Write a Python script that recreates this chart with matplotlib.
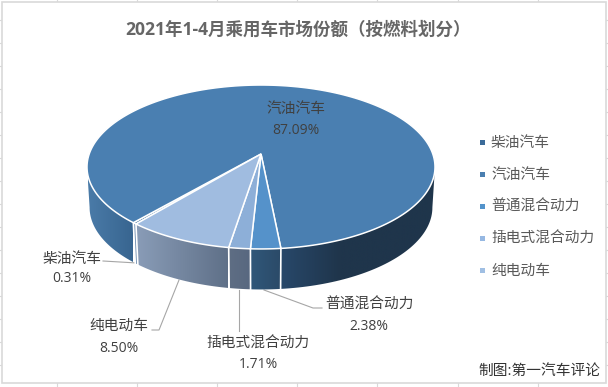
import numpy as np
import matplotlib
matplotlib.use("Agg")
import matplotlib.pyplot as plt
from matplotlib.patches import Polygon, Rectangle
from matplotlib.colors import LinearSegmentedColormap

categories = ['柴油汽车', '汽油汽车', '普通混合动力', '插电式混合动力', '纯电动车']
shares = [0.31, 87.09, 2.38, 1.71, 8.50]
share_labels = ['0.31%', '87.09%', '2.38%', '1.71%', '8.50%']
title = '2021年1-4月乘用车市场份额（按燃料划分）'
credit = '制图:第一汽车评论'

top_colors = ['#3f6f9a', '#4a7fb1', '#5592ca', '#8dafd8', '#a0bce0']
legend_colors = ['#3b6b99', '#4a7fb0', '#5393cb', '#96b8e2', '#a0bfe3']
FONT = ['Open Sans', 'Noto Sans CJK SC', 'DejaVu Sans']
plt.rcParams['font.family'] = FONT

fig = plt.figure(figsize=(6.08, 3.87), dpi=100)
ax = fig.add_axes([0, 0, 1, 1])
ax.set_xlim(0, 608)
ax.set_ylim(387, 0)
ax.axis('off')

# Sheet grid stubs and chart frame
for x in [57, 137, 217, 297, 377, 458, 538]:
    ax.plot([x, x], [0, 1.5], color='#d9d9d9', lw=0.8, zorder=1)
    ax.plot([x, x], [383, 387], color='#d9d9d9', lw=0.8, zorder=1)
for y in np.arange(20, 383, 23):
    ax.plot([0, 1.5], [y, y], color='#d9d9d9', lw=0.8, zorder=1)
    ax.plot([605.5, 608], [y, y], color='#d9d9d9', lw=0.8, zorder=1)
ax.add_patch(Rectangle((1.5, 1.5), 604, 381.5, fc='white', ec='#d9d9d9', lw=1.2, zorder=1))

# Perspective projection of the pie disc
CX, APEX_Y, A, B, K = 261, 154, 171.8, 79.9, 0.1585
DEPTH, SHRINK = 40.5, 0.985


def top_pt(t):
    t = np.radians(t)
    d = 1 - K * np.cos(t)
    return CX + A * np.sin(t) / d, APEX_Y + B * np.cos(t) / d


def bot_pt(t):
    x, y = top_pt(t)
    return CX + (x - CX) * SHRINK, y + DEPTH


def gradient_side(t0, t1, stops):
    ts = np.linspace(t0, t1, 60)
    tx, ty = top_pt(ts)
    bx, by = bot_pt(ts)
    verts = np.r_[np.c_[tx, ty], np.c_[bx, by][::-1]]
    xs = [s[0] for s in stops]
    span = xs[-1] - xs[0]
    cmap = LinearSegmentedColormap.from_list(
        'g', [((x - xs[0]) / span, c) for x, c in stops])
    im = ax.imshow(np.linspace(0, 1, 256)[None, :], cmap=cmap, aspect='auto',
                   extent=[xs[0], xs[-1], 300, 150], zorder=2)
    im.set_clip_path(Polygon(verts, transform=ax.transData))


# Slice boundaries: clockwise on screen means decreasing t
START_T = 5.6
total = sum(shares)
sweep = [360 * v / total for v in shares]
hev_end = START_T - sweep[2]
phev_end = hev_end - sweep[3]
ev_end = phev_end - sweep[4]
diesel_end = ev_end - sweep[0]
LIMIT = 81

gradient_side(-LIMIT, diesel_end, [(88, '#4a7ba8'), (133, '#386590')])
gradient_side(diesel_end, ev_end, [(132, '#6f8db0'), (137, '#6f8db0')])
gradient_side(ev_end, phev_end, [(135, '#8a9db8'), (228, '#5f7088')])
gradient_side(phev_end, hev_end, [(228, '#5f6e84'), (250, '#586880')])
gradient_side(hev_end, START_T, [(250, '#30587a'), (281, '#2b4a68')])
gradient_side(START_T, LIMIT, [(281, '#28486a'), (340, '#1f354b'), (436, '#1f354b')])

for t in [diesel_end, ev_end, phev_end, hev_end, START_T]:
    tx, ty = top_pt(t)
    bx, by = bot_pt(t)
    ax.plot([tx, bx], [ty, by], color='white', lw=1.2, zorder=3)

# Top faces, drawn from the shares
faces = [(ev_end, diesel_end, 0), (diesel_end, diesel_end - sweep[1], 1),
         (START_T, hev_end, 2), (hev_end, phev_end, 3), (phev_end, ev_end, 4)]
for t0, t1, i in faces:
    ts = np.linspace(t0, t1, 240)
    x, y = top_pt(ts)
    verts = np.r_[[[CX, APEX_Y]], np.c_[x, y]]
    ax.add_patch(Polygon(verts, closed=True, fc=top_colors[i], ec='white',
                         lw=1.1, joinstyle='miter', zorder=4))

# Data labels
label_pos = {0: (72, 259, 279), 1: (296, 109, 131), 2: (369, 305, 326),
             3: (258, 344, 364), 4: (119, 326, 349)}
for i, (x, y0, y1) in label_pos.items():
    ax.text(x, y0, categories[i], ha='center', va='center', fontsize=10.6,
            color='#404040', zorder=6)
    ax.text(x, y1, share_labels[i], ha='center', va='center', fontsize=10,
            color='#404040', zorder=6)

# Leader lines
for xs, ys in [([103, 137], [261, 263]),
               ([152, 159, 179], [330, 330, 280]),
               ([239, 239], [290, 331]),
               ([264, 313, 322], [290, 308, 308])]:
    ax.plot(xs, ys, color='#a6a6a6', lw=0.8, zorder=1.5)

ax.text(298.5, 30, title, ha='center', va='center', fontsize=12.6,
        fontweight='bold', color='#666666', zorder=6)
ax.text(600, 371, credit, ha='right', va='center', fontsize=10.6,
        color='#333333', zorder=6)

# Legend
for i, (name, color) in enumerate(zip(categories, legend_colors)):
    y = 142 + 32 * i
    ax.add_patch(Rectangle((479.5, y - 2.5), 5, 5, fc=color, ec='none', zorder=6))
    ax.text(491, y + 1, name, ha='left', va='center', fontsize=10.6,
            color='#595959', zorder=6)

fig.savefig('out.png', dpi=100)
